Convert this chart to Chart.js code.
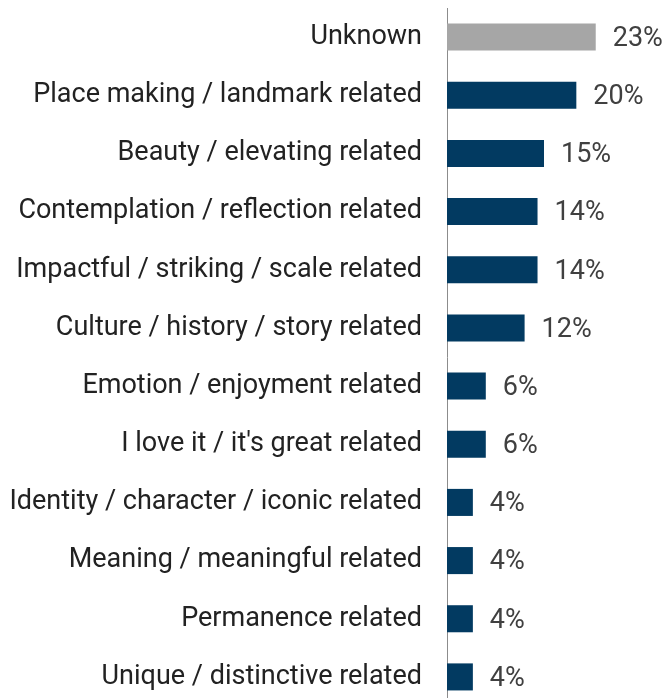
<!DOCTYPE html>
<html>
<head>
<meta charset="utf-8">
<script src="https://cdn.jsdelivr.net/npm/chart.js@4"></script>
<style>
  html, body { margin: 0; padding: 0; background: #fff; overflow: hidden; }
  canvas { display: block; }
</style>
</head>
<body>
<canvas id="grafico" width="666" height="706"></canvas>
<script>
const categorias = [
    'Unknown',
    'Place making / landmark related',
    'Beauty / elevating related',
    'Contemplation / reflection related',
    'Impactful / striking / scale related',
    'Culture / history / story related',
    'Emotion / enjoyment related',
    "I love it / it's great related",
    'Identity / character / iconic related',
    'Meaning / meaningful related',
    'Permanence related',
    'Unique / distinctive related'
];
const valores = [23, 20, 15, 14, 14, 12, 6, 6, 4, 4, 4, 4];
const cores = valores.map((v, i) => i === 0 ? '#a6a6a6' : '#023a61');

const FONTE = 'Roboto, sans-serif';

// rótulos de valor depois de cada barra
const rotulosValor = {
    id: 'rotulosValor',
    afterDatasetsDraw(chart) {
        const ctx = chart.ctx;
        const meta = chart.getDatasetMeta(0);
        ctx.save();
        ctx.font = '27px ' + FONTE;
        ctx.fillStyle = '#404040';
        ctx.textAlign = 'left';
        ctx.textBaseline = 'middle';
        meta.data.forEach((bar, i) => {
            ctx.fillText(valores[i] + '%', bar.x + 17, bar.y + 2);
        });
        ctx.restore();
    }
};

const ctxGrafico = document.getElementById('grafico').getContext('2d');
new Chart(ctxGrafico, {
    type: 'bar',
    data: {
        labels: categorias,
        datasets: [{
            data: valores,
            backgroundColor: cores,
            borderWidth: 0,
            categoryPercentage: 1,
            barPercentage: 0.465
        }]
    },
    options: {
        indexAxis: 'y',
        responsive: false,
        animation: false,
        layout: { padding: { top: 8, right: 25, bottom: 0, left: 0 } },
        plugins: {
            legend: { display: false },
            tooltip: { enabled: false }
        },
        scales: {
            x: {
                display: false,
                min: 0,
                max: 30
            },
            y: {
                afterFit(scale) {
                    scale.width = 447;
                    scale.paddingTop = 0;
                    scale.paddingBottom = 0;
                },
                grid: { display: false, drawTicks: false },
                border: { display: true, color: '#8c8c8c', width: 1 },
                ticks: {
                    padding: 25,
                    color: '#222222',
                    font: { family: FONTE, size: 27 }
                }
            }
        }
    },
    plugins: [rotulosValor]
});
</script>
</body>
</html>
